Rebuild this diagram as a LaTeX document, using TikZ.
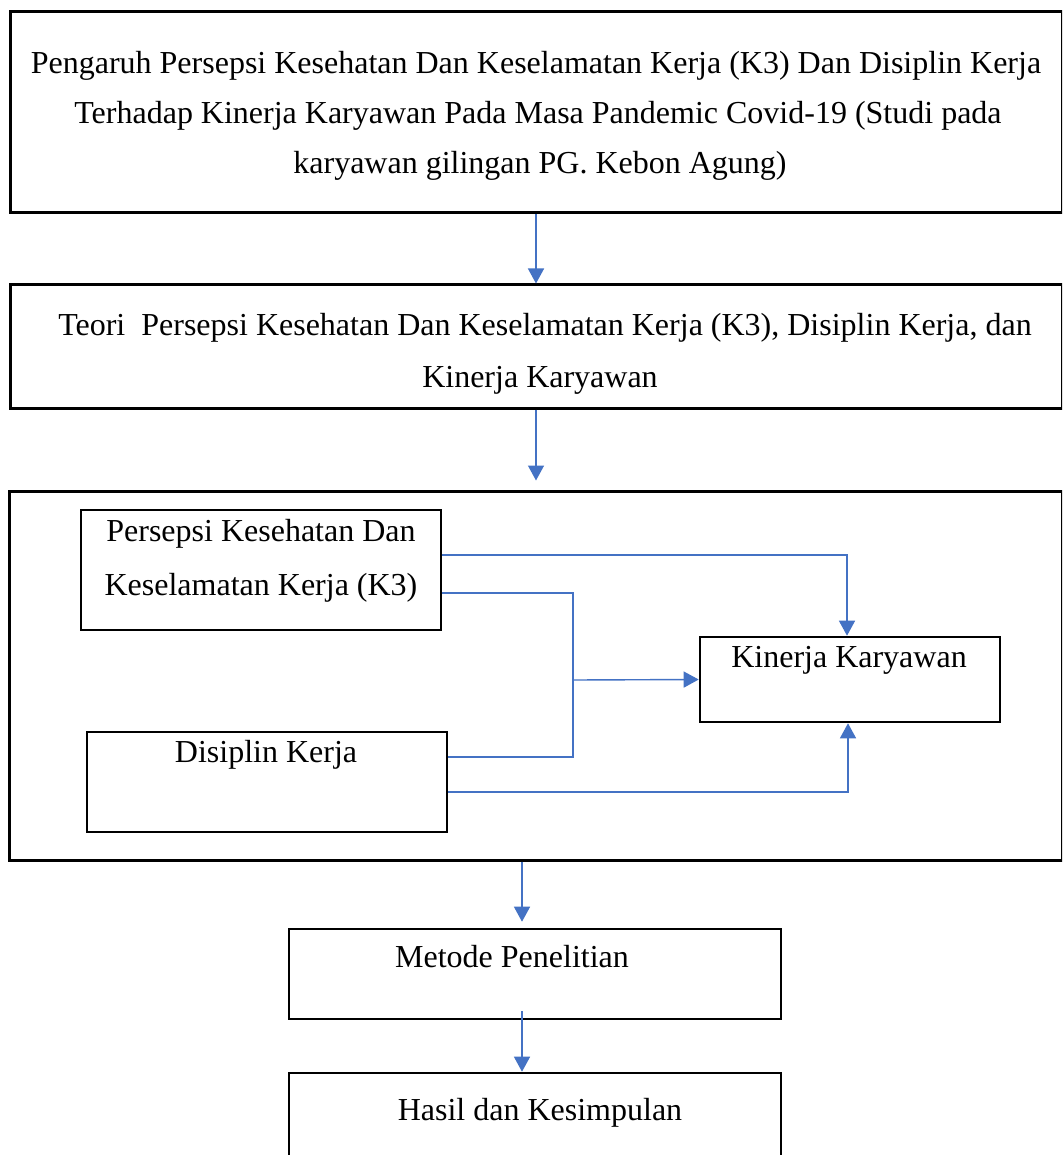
\documentclass[tikz,border=0pt]{standalone}
\usepackage{fontspec}
\setmainfont{Liberation Serif}
\usetikzlibrary{arrows.meta}
\definecolor{connblue}{HTML}{4472C4}
\tikzset{
  box/.style={draw=black, line width=2.6pt, rectangle, inner sep=0pt},
  bigbox/.style={box, line width=3pt},
  txt/.style={font=\fontsize{32}{40}\selectfont, inner sep=0pt, anchor=base},
  conn/.style={draw=connblue, line width=1.4pt},
  arr/.style={conn, -{Triangle[length=15pt,width=16pt]}}
}
\begin{document}
\begin{tikzpicture}[x=1pt,y=-1pt]
\useasboundingbox (0,0) rectangle (1062,1155);
\clip (0,0) rectangle (1062,1155);
\fill[white] (0,0) rectangle (1062,1155);

% boxes
\node[bigbox, minimum width=1052pt, minimum height=201pt] (top) at (536,112.5) {};
\node[bigbox, minimum width=1052pt, minimum height=123pt] (theory) at (536,346.5) {};
\node[bigbox, minimum width=1053pt, minimum height=369pt] (frame) at (536,675.5) {};
\node[box, minimum width=360pt, minimum height=120pt] (persepsi) at (261,570) {};
\node[box, minimum width=300pt, minimum height=85pt] (kinerja) at (850,679.5) {};
\node[box, minimum width=360pt, minimum height=100pt] (disiplin) at (267,782) {};
\node[box, minimum width=492pt, minimum height=90pt] (metode) at (535,974) {};
\node[box, minimum width=492pt, minimum height=120pt] (hasil) at (535,1133) {};

% texts
\node[txt] (topA) at (536,74) {Pengaruh Persepsi Kesehatan Dan Keselamatan Kerja (K3) Dan Disiplin Kerja};
\node[txt] (topB) at (538,124) {Terhadap Kinerja Karyawan Pada Masa Pandemic Covid-19 (Studi pada};
\node[txt] (topC) at (540,174) {karyawan gilingan PG. Kebon Agung)};
\node[txt] (theoryA) at (545,335) {Teori~ Persepsi Kesehatan Dan Keselamatan Kerja (K3), Disiplin Kerja, dan};
\node[txt] (theoryB) at (540,387) {Kinerja Karyawan};
\node[txt] (persepsiA) at (261,541) {Persepsi Kesehatan Dan};
\node[txt] (persepsiB) at (261,595) {Keselamatan Kerja (K3)};
\node[txt] (kinerjaT) at (849,667) {Kinerja Karyawan};
\node[txt] (disiplinT) at (266,762) {Disiplin Kerja};
\node[txt] (metodeT) at (512,967) {Metode Penelitian};
\node[txt] (hasilT) at (540,1120) {Hasil dan Kesimpulan};

% helper coordinates
\coordinate (j) at (573,680);
\coordinate (c3) at (522,0);

% main flow
\draw[arr] (top.south) -- (theory.north);
\draw[arr, shorten >=9pt] (theory.south) -- (frame.north);
\draw[arr, shorten >=6pt] (frame.south -| c3) -- (metode.north -| c3);
\draw[arr] ([yshift=9pt]metode.south -| c3) -- (hasil.north -| c3);

% inner connectors
\draw[arr] ([yshift=15pt]persepsi.east) -| ([xshift=-3pt]kinerja.north);
\draw[conn] ([yshift=-23pt]persepsi.east) -| (j) |- ([yshift=25pt]disiplin.east);
\draw[arr] (j) -- (kinerja.west);
\draw[arr] ([yshift=-10pt]disiplin.east) -| ([xshift=-2pt]kinerja.south);
\end{tikzpicture}
\end{document}
